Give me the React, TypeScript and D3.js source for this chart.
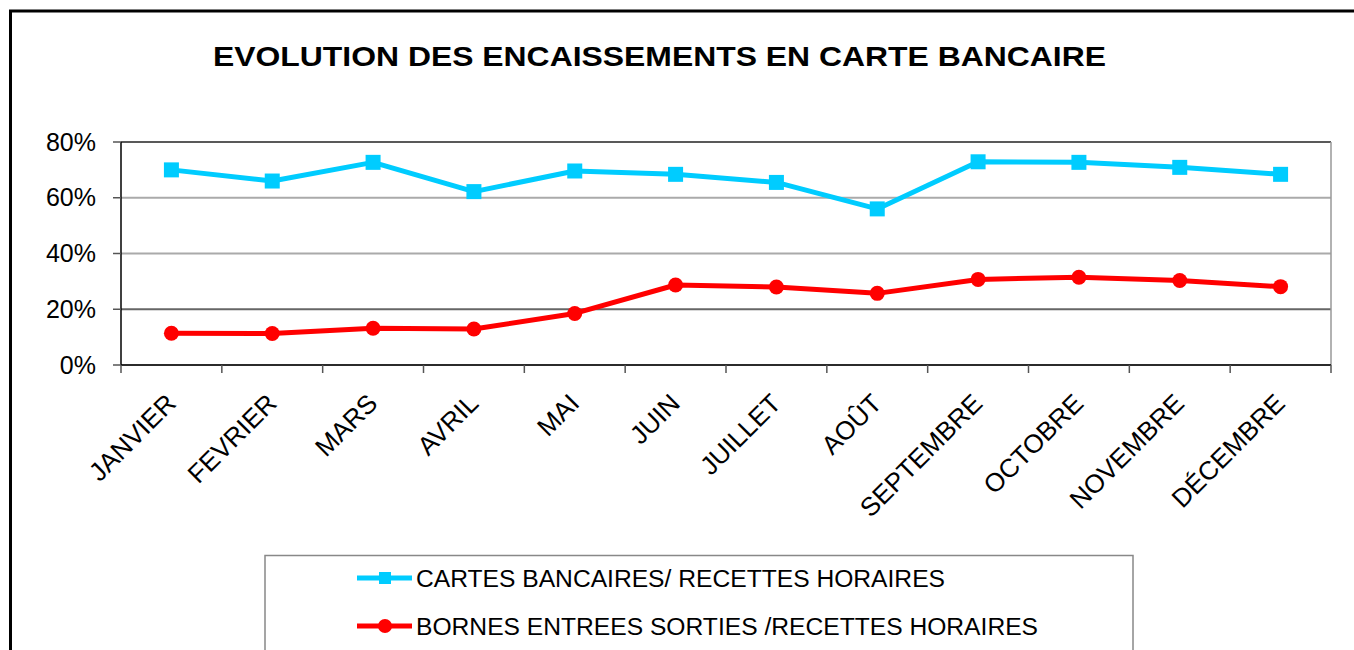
import React from "react";
import * as d3 from "d3";

const months = ["JANVIER", "FEVRIER", "MARS", "AVRIL", "MAI", "JUIN", "JUILLET", "AOÛT", "SEPTEMBRE", "OCTOBRE", "NOVEMBRE", "DÉCEMBRE"];
const cartesBancaires = [0.70, 0.66, 0.727, 0.622, 0.696, 0.684, 0.655, 0.56, 0.729, 0.727, 0.709, 0.684];
const bornesEntreesSorties = [0.114, 0.113, 0.132, 0.129, 0.185, 0.287, 0.28, 0.257, 0.307, 0.315, 0.303, 0.281];
const yTicks = [0, 0.2, 0.4, 0.6, 0.8];
const title = "EVOLUTION DES ENCAISSEMENTS EN CARTE BANCAIRE";
const seriesNames = ["CARTES BANCAIRES/ RECETTES HORAIRES", "BORNES ENTREES SORTIES /RECETTES HORAIRES"];

const W = 1354, H = 650;
const plot = { left: 121, right: 1331, top: 142, bottom: 365 };
const FONT = "Liberation Sans, Arial, sans-serif";

export default function App() {
  const x = d3.scaleBand<string>().domain(months).range([plot.left, plot.right]);
  const y = d3.scaleLinear().domain([0, 0.8]).range([plot.bottom, plot.top]);
  const cx = (m: string) => (x(m) as number) + x.bandwidth() / 2;
  const line = d3.line<number>().x((_, i) => cx(months[i])).y((d) => y(d));
  const cyan = "#00CCFF";
  const red = "#FF0000";
  const pct = d3.format(".0%");
  const boundaries = d3.range(months.length + 1).map((i) => plot.left + i * x.bandwidth());

  return (
    <svg width={W} height={H} style={{ position: "absolute", left: 0, top: 0, display: "block" }}>
      <rect x={0} y={0} width={W} height={H} fill="#fff" />
      {/* outer frame */}
      <rect x={10.5} y={11} width={W + 20} height={H + 20} fill="none" stroke="#000" strokeWidth={3} />
      <text x={213} y={66} textLength={893} lengthAdjust="spacingAndGlyphs" fontFamily={FONT} fontWeight="bold" fontSize={28} fill="#000">{title}</text>

      {/* gridlines */}
      {yTicks.map((t) => (
        <line key={"g" + t} x1={plot.left} x2={plot.right} y1={y(t)} y2={y(t)}
          stroke={t === 0.8 ? "#222" : t === 0.2 ? "#666" : "#aaa"} strokeWidth={t === 0.8 ? 1.5 : 2} />
      ))}
      {/* right border */}
      <line x1={plot.right} x2={plot.right} y1={plot.top} y2={plot.bottom} stroke="#999" strokeWidth={1.5} />
      {/* axes */}
      <line x1={plot.left} x2={plot.left} y1={plot.top} y2={plot.bottom} stroke="#000" strokeWidth={1.5} />
      <line x1={plot.left} x2={plot.right} y1={plot.bottom} y2={plot.bottom} stroke="#000" strokeWidth={1.5} />
      {yTicks.map((t) => (
        <g key={"yt" + t}>
          <line x1={plot.left - 8} x2={plot.left} y1={y(t)} y2={y(t)} stroke="#555" strokeWidth={1.5} />
          <text x={96} y={y(t) + 8.5} textAnchor="end" fontFamily={FONT} fontSize={25} fill="#000">{pct(t)}</text>
        </g>
      ))}
      {boundaries.map((b, i) => (
        <line key={"xt" + i} x1={b} x2={b} y1={plot.bottom} y2={plot.bottom + 8} stroke="#555" strokeWidth={1.5} />
      ))}
      {months.map((m) => (
        <text key={"xl" + m} transform={`translate(${cx(m) + 6},${plot.bottom + 40}) rotate(-45)`} textAnchor="end"
          fontFamily={FONT} fontSize={26} fill="#000">{m}</text>
      ))}

      {/* series */}
      <path d={line(cartesBancaires) as string} fill="none" stroke={cyan} strokeWidth={5} strokeLinejoin="round" />
      {cartesBancaires.map((v, i) => (
        <rect key={"cb" + i} x={cx(months[i]) - 7.5} y={y(v) - 7.5} width={15} height={15} fill={cyan} />
      ))}
      <path d={line(bornesEntreesSorties) as string} fill="none" stroke={red} strokeWidth={5} strokeLinejoin="round" />
      {bornesEntreesSorties.map((v, i) => (
        <circle key={"be" + i} cx={cx(months[i])} cy={y(v)} r={7.5} fill={red} />
      ))}

      {/* legend */}
      <rect x={265} y={555.5} width={868} height={120} fill="none" stroke="#888" strokeWidth={1.5} />
      <line x1={357} x2={412} y1={578} y2={578} stroke={cyan} strokeWidth={5} />
      <rect x={379} y={572} width={12} height={12} fill={cyan} />
      <text x={416} y={586.5} textLength={529} lengthAdjust="spacingAndGlyphs" fontFamily={FONT} fontSize={23} fill="#000">{seriesNames[0]}</text>
      <line x1={357} x2={412} y1={626} y2={626} stroke={red} strokeWidth={5} />
      <circle cx={385} cy={626} r={7} fill={red} />
      <text x={416} y={634.5} textLength={622} lengthAdjust="spacingAndGlyphs" fontFamily={FONT} fontSize={23} fill="#000">{seriesNames[1]}</text>
    </svg>
  );
}
